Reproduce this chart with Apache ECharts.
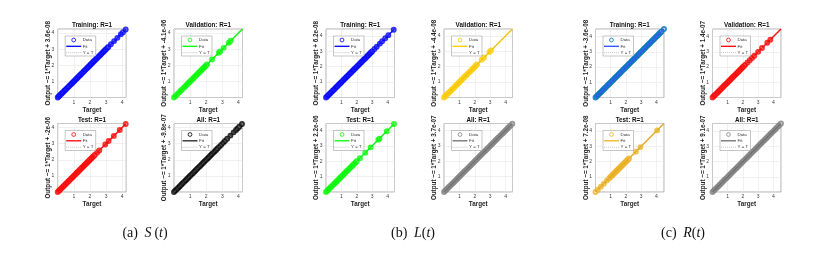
<!DOCTYPE html>
<html><head><meta charset="utf-8">
<script src="https://cdn.jsdelivr.net/npm/echarts@6/dist/echarts.min.js"></script>
<style>html,body{margin:0;padding:0;background:#fff}#c{width:820px;height:255px}</style>
</head><body><div id="c"></div>
<script>
// ---------- data (target values; output ~= target since R=1) ----------
const panelTitles = ['Training: R=1','Validation: R=1','Test: R=1','All: R=1'];
const captions = [['(a)','S','\u2009(','t',')'],['(b)','L','(','t',')'],['(c)','R','(','t',')']];
const axisMax = [4.25, 4.45, 4.5];
const tickLabels = ['1','2','3','4'];

// (a) S(t)
const sTrain = [0,0.06,0.12,0.2,0.26,0.33,0.4,0.46,0.53,0.6,0.66,0.73,0.8,0.86,0.93,1,1.06,1.13,1.2,1.26,1.33,1.4,1.46,1.53,1.6,1.66,1.73,1.8,1.86,1.93,2,2.06,2.13,2.2,2.26,2.33,2.4,2.46,2.53,2.6,2.66,2.73,2.8,2.86,2.93,3,3.08,3.14,3.3,3.5,3.7,3.92,4.05,4.22];
const sVal = [0,0.09,0.2,0.31,0.42,0.5,0.61,0.7,0.78,0.86,0.93,1.01,1.08,1.15,1.22,1.29,1.36,1.42,1.5,1.57,1.63,1.7,1.77,1.84,1.9,1.97,2.05,2.36,2.78,2.86,3.08,3.4,3.52];
const sTest = [0,0.07,0.14,0.21,0.28,0.35,0.42,0.49,0.56,0.63,0.7,0.77,0.84,0.91,0.98,1.05,1.12,1.19,1.26,1.33,1.4,1.47,1.54,1.61,1.68,1.75,1.82,1.89,1.96,2.03,2.1,2.17,2.24,2.31,2.45,2.58,2.95,3.16,3.48,3.85,4.22];
const sAll = [0,0.09,0.18,0.27,0.36,0.45,0.54,0.63,0.72,0.81,0.9,0.99,1.08,1.17,1.26,1.35,1.44,1.53,1.62,1.71,1.8,1.89,1.98,2.07,2.16,2.25,2.34,2.43,2.52,2.61,2.7,2.8,2.92,3.05,3.16,3.3,3.5,3.7,3.85,3.95,4.05,4.22];
// (b) L(t)
const lTrain = [0,0.07,0.14,0.21,0.28,0.35,0.42,0.49,0.56,0.63,0.7,0.77,0.84,0.91,0.98,1.05,1.12,1.19,1.26,1.33,1.4,1.47,1.54,1.61,1.68,1.75,1.82,1.89,1.96,2.03,2.1,2.17,2.24,2.31,2.38,2.45,2.52,2.59,2.66,2.73,2.8,2.87,2.94,3.01,3.15,3.3,3.5,3.65,3.85,4.05,4.4];
const lVal = [0,0.08,0.16,0.24,0.32,0.4,0.48,0.56,0.64,0.72,0.8,0.88,0.96,1.04,1.12,1.2,1.28,1.36,1.44,1.52,1.6,1.68,1.76,1.84,1.92,2,2.08,2.15,2.45,2.6,2.95,3.05];
const lTest = [0,0.08,0.16,0.24,0.32,0.4,0.48,0.56,0.64,0.72,0.8,0.88,0.96,1.04,1.12,1.2,1.28,1.36,1.44,1.52,1.6,1.68,1.76,1.84,1.92,2,2.2,2.55,2.9,3.4,3.47,3.95,4.42];
const lAll = [0,0.08,0.16,0.24,0.32,0.4,0.48,0.56,0.64,0.72,0.8,0.88,0.96,1.04,1.12,1.2,1.28,1.36,1.44,1.52,1.6,1.68,1.76,1.84,1.92,2,2.08,2.16,2.24,2.32,2.4,2.48,2.56,2.64,2.72,2.8,2.88,2.96,3.04,3.12,3.2,3.28,3.36,3.44,3.52,3.6,3.68,3.76,3.84,3.92,4,4.08,4.16,4.24,4.32,4.44];
// (c) R(t)
const rTrain = [0,0.07,0.14,0.21,0.28,0.35,0.42,0.49,0.56,0.63,0.7,0.77,0.84,0.91,0.98,1.05,1.12,1.19,1.26,1.33,1.4,1.47,1.54,1.61,1.68,1.75,1.82,1.89,1.96,2.03,2.1,2.17,2.24,2.31,2.38,2.45,2.52,2.59,2.66,2.73,2.8,2.87,2.94,3.01,3.08,3.15,3.22,3.29,3.36,3.43,3.5,3.57,3.64,3.71,3.78,3.85,3.92,3.99,4.06,4.13,4.2,4.27,4.34,4.5];
const rVal = [0,0.08,0.16,0.24,0.32,0.4,0.48,0.56,0.64,0.72,0.8,0.88,0.96,1.04,1.12,1.2,1.28,1.36,1.44,1.52,1.6,1.68,1.76,1.84,1.92,2,2.08,2.16,2.3,2.45,2.6,2.75,3,3.25,3.6,3.8];
const rTest = [0,0.15,0.35,0.55,0.75,0.9,1,1.06,1.12,1.18,1.24,1.3,1.36,1.42,1.48,1.54,1.6,1.66,1.72,1.78,1.84,1.9,1.96,2.02,2.08,2.14,2.2,2.65,2.95,4.05];
const rAll = [0,0.08,0.16,0.24,0.32,0.4,0.48,0.56,0.64,0.72,0.8,0.88,0.96,1.04,1.12,1.2,1.28,1.36,1.44,1.52,1.6,1.68,1.76,1.84,1.92,2,2.08,2.16,2.24,2.32,2.4,2.48,2.56,2.64,2.72,2.8,2.88,2.96,3.04,3.12,3.2,3.28,3.36,3.44,3.52,3.6,3.68,3.76,3.84,3.92,4,4.08,4.16,4.24,4.32,4.4,4.5];

const panelData = [sTrain,sVal,sTest,sAll, lTrain,lVal,lTest,lAll, rTrain,rVal,rTest,rAll];
const yLabels = [
  'Output ~= 1*Target + 3.6e-08','Output ~= 1*Target + -4.1e-06','Output ~= 1*Target + -2e-06','Output ~= 1*Target + -9.8e-07',
  'Output ~= 1*Target + 6.2e-08','Output ~= 1*Target + -4.4e-08','Output ~= 1*Target + 2.2e-06','Output ~= 1*Target + 3.7e-07',
  'Output ~= 1*Target + -3.6e-08','Output ~= 1*Target + 1.4e-07','Output ~= 1*Target + 7.2e-08','Output ~= 1*Target + 9.1e-07'
];
const dataColors = ['#0000ff','#00ff00','#ff0000','#000000', '#0000ff','#ffcc00','#00ff00','#808080', '#0072bd','#ff0000','#edb120','#808080'];
const fitColors  = ['#0000ff','#00ff00','#ff0000','#202020', '#0000ff','#ffcc00','#00ff00','#6e6e6e', '#2a4cff','#ff0000','#edb120','#6e6e6e'];

// ---------- layout ----------
const colLefts = [57.7, 174, 326, 444, 595.5, 712.5];
const rowTops = [29, 123.5];
const SZ = 68.5;
const SANS = '"Liberation Sans", Arial, sans-serif';
const SERIF = '"Liberation Serif", "Times New Roman", serif';

const grids = [], xAxes = [], yAxes = [], series = [], graphics = [];
const tickFmt = v => (Math.abs(v - Math.round(v)) < 1e-9 && v >= 1) ? tickLabels[Math.round(v) - 1] : '';

panelData.forEach((arr, i) => {
  const g = Math.floor(i / 4), k = i % 4;
  const L = colLefts[g * 2 + (k % 2)], T = rowTops[Math.floor(k / 2)];
  const M = axisMax[g];
  grids.push({left: L, top: T, width: SZ, height: SZ, show: true, borderColor: '#7a7a7a', borderWidth: 0.6, backgroundColor: '#fff'});
  const axBase = {
    gridIndex: i, type: 'value', min: 0, max: M, interval: 1,
    nameLocation: 'middle', nameMoveOverlap: false,
    nameTextStyle: {fontFamily: SANS, fontSize: 6.3, fontWeight: 'bold', color: '#262626'},
    axisLine: {show: false}, axisTick: {show: false},
    axisLabel: {fontFamily: SANS, fontSize: 5, color: '#404040', formatter: tickFmt},
    splitLine: {show: true, lineStyle: {color: '#e2e2e2', width: 0.5}}
  };
  xAxes.push(Object.assign({}, axBase, {name: 'Target', nameGap: 9.5, axisLabel: Object.assign({}, axBase.axisLabel, {margin: 2.5})}));
  yAxes.push(Object.assign({}, axBase, {name: yLabels[i], nameGap: 6.5, nameRotate: 90, axisLabel: Object.assign({}, axBase.axisLabel, {margin: 3.5})}));

  series.push({type: 'scatter', xAxisIndex: i, yAxisIndex: i, clip: false, symbol: 'emptyCircle', symbolSize: 3.9,
    itemStyle: {color: dataColors[i], borderColor: dataColors[i], borderWidth: 0.7}, z: 2,
    data: arr.map(v => [v, v])});
  series.push({type: 'line', xAxisIndex: i, yAxisIndex: i, clip: false, symbol: 'none', z: 3,
    lineStyle: {color: fitColors[i], width: 1.5}, data: [[0, 0], [M, M]]});
  series.push({type: 'line', xAxisIndex: i, yAxisIndex: i, clip: false, symbol: 'none', z: 4,
    lineStyle: {color: '#8a8a8a', width: 0.5, type: [1, 1.2]}, data: [[0, 0], [M, M]]});

  // panel title
  graphics.push({type: 'text', z: 100, style: {text: panelTitles[k], x: L + SZ / 2, y: T - 0.6, align: 'center', verticalAlign: 'bottom',
    font: 'bold 6.3px ' + SANS, fill: '#111'}});
  // legend box
  graphics.push({type: 'rect', z: 100, shape: {x: L + 7.5, y: T + 7, width: 30.5, height: 20}, style: {fill: '#fff', stroke: '#8c8c8c', lineWidth: 0.5}});
  graphics.push({type: 'circle', z: 101, shape: {cx: L + 16, cy: T + 11, r: 1.9}, style: {fill: 'none', stroke: dataColors[i], lineWidth: 0.8}});
  graphics.push({type: 'line', z: 101, shape: {x1: L + 8.5, y1: T + 17.3, x2: L + 23.5, y2: T + 17.3}, style: {stroke: fitColors[i], lineWidth: 1.3}});
  graphics.push({type: 'line', z: 101, shape: {x1: L + 8.5, y1: T + 23.7, x2: L + 23.5, y2: T + 23.7}, style: {stroke: '#888', lineWidth: 0.5, lineDash: [1, 1]}});
  [['Data', 11], ['Fit', 17.3], ['Y = T', 23.7]].forEach(([t, dy]) => {
    graphics.push({type: 'text', z: 101, style: {text: t, x: L + 25, y: T + dy, align: 'left', verticalAlign: 'middle', font: '4.4px ' + SANS, fill: '#333'}});
  });
});

// captions
const capCenters = [145, 413, 683];
captions.forEach((c, j) => {
  graphics.push({type: 'text', z: 100, style: {
    text: '{n|' + c[0] + '}  {i|' + c[1] + '}{n|' + c[2] + '}{i|' + c[3] + '}{n|' + c[4] + '}',
    x: capCenters[j], y: 233, align: 'center', verticalAlign: 'middle',
    rich: {
      n: {fontFamily: SERIF, fontSize: 14, fill: '#111'},
      i: {fontFamily: SERIF, fontSize: 14, fontStyle: 'italic', fill: '#111'}
    }
  }});
});

const chart = echarts.init(document.getElementById('c'), null, {renderer: 'canvas'});
chart.setOption({
  animation: false,
  backgroundColor: '#fff',
  grid: grids, xAxis: xAxes, yAxis: yAxes, series: series,
  graphic: {elements: graphics}
});
</script>
</body></html>
